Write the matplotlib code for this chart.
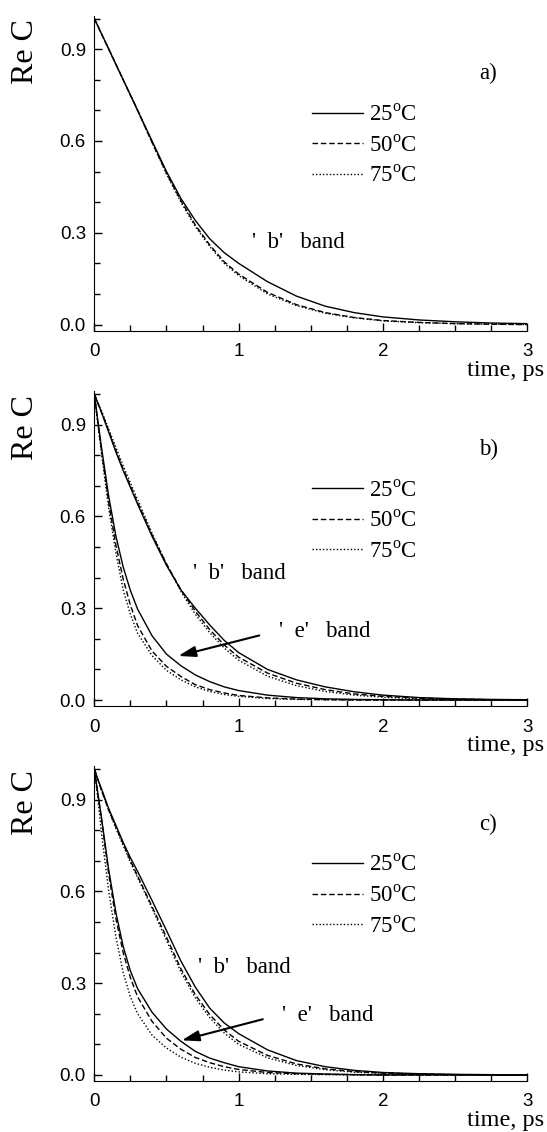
import matplotlib
matplotlib.use("Agg")
import matplotlib.pyplot as plt
from matplotlib.ticker import MultipleLocator, FormatStrFormatter

plt.rcParams['font.family'] = 'Liberation Serif'
plt.rcParams['mathtext.fontset'] = 'custom'
plt.rcParams['mathtext.rm'] = 'Liberation Serif'

# time axis, ps
t = [0, 0.025, 0.05, 0.1, 0.15, 0.2, 0.25, 0.3, 0.4, 0.5, 0.6, 0.7,
     0.8, 0.9, 1.0, 1.2, 1.4, 1.6, 1.8, 2.0, 2.25, 2.5, 2.75, 3.0]

# panel a) - 'b' band only
a_25 = [1.0, 0.975, 0.95, 0.90, 0.85, 0.80, 0.75, 0.70, 0.60, 0.50, 0.412, 0.34,
        0.28, 0.235, 0.2, 0.14, 0.093, 0.06, 0.039, 0.025, 0.015, 0.009, 0.005, 0.003]
a_50 = [1.0, 0.975, 0.95, 0.90, 0.85, 0.80, 0.75, 0.70, 0.595, 0.495, 0.405, 0.325,
        0.26, 0.205, 0.165, 0.105, 0.065, 0.039, 0.023, 0.013, 0.007, 0.003, 0.001, 0.0]
a_75 = [1.0, 0.975, 0.95, 0.90, 0.85, 0.80, 0.75, 0.70, 0.595, 0.492, 0.40, 0.32,
        0.255, 0.20, 0.16, 0.10, 0.062, 0.037, 0.022, 0.012, 0.006, 0.003, 0.001, 0.0]

# panel b) - 'b' band (upper) and 'e' band (lower)
b_b25 = [1.0, 0.97, 0.94, 0.875, 0.81, 0.75, 0.695, 0.64, 0.535, 0.44, 0.36, 0.30,
         0.245, 0.195, 0.155, 0.10, 0.066, 0.043, 0.027, 0.016, 0.008, 0.004, 0.002, 0.001]
b_b50 = [1.0, 0.97, 0.94, 0.88, 0.815, 0.755, 0.70, 0.645, 0.54, 0.445, 0.36, 0.29,
         0.23, 0.18, 0.14, 0.088, 0.055, 0.034, 0.02, 0.012, 0.006, 0.003, 0.001, 0.0]
b_b75 = [1.0, 0.97, 0.945, 0.885, 0.825, 0.765, 0.71, 0.655, 0.545, 0.445, 0.355, 0.28,
         0.22, 0.17, 0.13, 0.078, 0.047, 0.028, 0.016, 0.009, 0.004, 0.002, 0.001, 0.0]
b_e25 = [1.0, 0.91, 0.825, 0.665, 0.535, 0.435, 0.358, 0.297, 0.21, 0.15, 0.112, 0.082,
         0.06, 0.043, 0.031, 0.016, 0.008, 0.004, 0.002, 0.001, 0.0, 0.0, 0.0, 0.0]
b_e50 = [1.0, 0.905, 0.815, 0.645, 0.505, 0.395, 0.31, 0.243, 0.16, 0.11, 0.077, 0.05,
         0.034, 0.023, 0.015, 0.007, 0.003, 0.001, 0.0, 0.0, 0.0, 0.0, 0.0, 0.0]
b_e75 = [1.0, 0.90, 0.805, 0.625, 0.48, 0.36, 0.28, 0.218, 0.145, 0.097, 0.066, 0.043,
         0.028, 0.018, 0.012, 0.005, 0.002, 0.001, 0.0, 0.0, 0.0, 0.0, 0.0, 0.0]

# panel c)
c_b25 = [1.0, 0.965, 0.935, 0.87, 0.815, 0.76, 0.71, 0.665, 0.57, 0.472, 0.372, 0.287,
         0.218, 0.17, 0.135, 0.082, 0.047, 0.027, 0.015, 0.008, 0.004, 0.002, 0.001, 0.0]
c_b50 = [1.0, 0.965, 0.93, 0.865, 0.81, 0.755, 0.70, 0.65, 0.55, 0.45, 0.347, 0.262,
         0.197, 0.147, 0.11, 0.064, 0.036, 0.02, 0.011, 0.006, 0.003, 0.001, 0.0, 0.0]
c_b75 = [1.0, 0.965, 0.93, 0.865, 0.805, 0.75, 0.695, 0.645, 0.545, 0.44, 0.337, 0.252,
         0.187, 0.137, 0.10, 0.056, 0.031, 0.017, 0.009, 0.005, 0.002, 0.001, 0.0, 0.0]
c_e25 = [1.0, 0.92, 0.84, 0.67, 0.53, 0.42, 0.34, 0.282, 0.205, 0.15, 0.11, 0.077,
         0.055, 0.04, 0.027, 0.013, 0.006, 0.003, 0.001, 0.0, 0.0, 0.0, 0.0, 0.0]
c_e50 = [1.0, 0.915, 0.835, 0.655, 0.51, 0.40, 0.318, 0.255, 0.175, 0.12, 0.084, 0.057,
         0.04, 0.027, 0.018, 0.008, 0.004, 0.002, 0.001, 0.0, 0.0, 0.0, 0.0, 0.0]
c_e75 = [1.0, 0.90, 0.79, 0.60, 0.45, 0.335, 0.255, 0.20, 0.13, 0.088, 0.058, 0.038,
         0.025, 0.016, 0.01, 0.004, 0.002, 0.001, 0.0, 0.0, 0.0, 0.0, 0.0, 0.0]

labels = ['25$^{\\mathrm{o}}$C', '50$^{\\mathrm{o}}$C', '75$^{\\mathrm{o}}$C']
styles = ['-', (0, (4, 2)), (0, (1, 1.5))]

fig = plt.figure(figsize=(5.47, 11.32), dpi=100)
bottoms = [0.708, 0.3763, 0.0451]
axes = [fig.add_axes([0.1724, b, 0.7916, 0.2783]) for b in bottoms]


def setup(ax, letter):
    ax.set_xlim(0, 3)
    ax.set_ylim(-0.0196, 1.0098)
    ax.spines['top'].set_visible(False)
    ax.spines['right'].set_visible(False)
    ax.xaxis.set_major_locator(MultipleLocator(1))
    ax.xaxis.set_minor_locator(MultipleLocator(0.25))
    ax.yaxis.set_major_locator(MultipleLocator(0.3))
    ax.yaxis.set_minor_locator(MultipleLocator(0.1))
    ax.yaxis.set_major_formatter(FormatStrFormatter('%.1f'))
    ax.tick_params(which='both', direction='in', width=1,
                   labelsize=13.5, labelfontfamily='Liberation Sans')
    ax.tick_params(which='major', length=6)
    ax.tick_params(which='minor', length=4)
    ax.tick_params(axis='x', pad=9)
    ax.tick_params(axis='y', pad=6)
    ax.text(-0.16, 0.885, 'Re C', rotation=90, fontsize=23,
            ha='center', va='center', transform=ax.transAxes)
    ax.text(1.0386, -0.126, 'time, ps', fontsize=17.5,
            ha='right', va='center', transform=ax.transAxes)
    ax.text(0.91, 0.815, letter, fontsize=16.5,
            ha='center', va='center', transform=ax.transAxes)
    ax.legend(loc='center left', bbox_to_anchor=(0.502, 0.587), frameon=False,
              fontsize=16.5, handlelength=2.22, handletextpad=0.29,
              labelspacing=0.4, borderpad=0, borderaxespad=0)


# a)
ax = axes[0]
for ys, ls, lab in zip([a_25, a_50, a_75], styles, labels):
    ax.plot(t, ys, color='black', lw=1.0, linestyle=ls, label=lab)
ax.text(1.095, 0.268, "'  b'   band", fontsize=16.5, va='center')
setup(ax, 'a)')

# b)
ax = axes[1]
for up, lo, ls, lab in zip([b_b25, b_b50, b_b75], [b_e25, b_e50, b_e75], styles, labels):
    ax.plot(t, up, color='black', lw=1.0, linestyle=ls, label=lab)
    ax.plot(t, lo, color='black', lw=1.0, linestyle=ls)
ax.text(0.687, 0.415, "'  b'   band", fontsize=16.5, va='center')
ax.text(1.282, 0.225, "'  e'   band", fontsize=16.5, va='center')
ax.annotate('', xy=(0.582, 0.144), xytext=(1.143, 0.211),
            arrowprops=dict(arrowstyle='-|>,head_length=0.8,head_width=0.25',
                            color='black', lw=1.5, shrinkA=0, shrinkB=0,
                            mutation_scale=13))
setup(ax, 'b)')

# c)
ax = axes[2]
for up, lo, ls, lab in zip([c_b25, c_b50, c_b75], [c_e25, c_e50, c_e75], styles, labels):
    ax.plot(t, up, color='black', lw=1.0, linestyle=ls, label=lab)
    ax.plot(t, lo, color='black', lw=1.0, linestyle=ls)
ax.text(0.72, 0.35, "'  b'   band", fontsize=16.5, va='center')
ax.text(1.298, 0.195, "'  e'   band", fontsize=16.5, va='center')
ax.annotate('', xy=(0.606, 0.113), xytext=(1.167, 0.182),
            arrowprops=dict(arrowstyle='-|>,head_length=0.8,head_width=0.25',
                            color='black', lw=1.5, shrinkA=0, shrinkB=0,
                            mutation_scale=13))
setup(ax, 'c)')

fig.savefig('out.png', dpi=100)
